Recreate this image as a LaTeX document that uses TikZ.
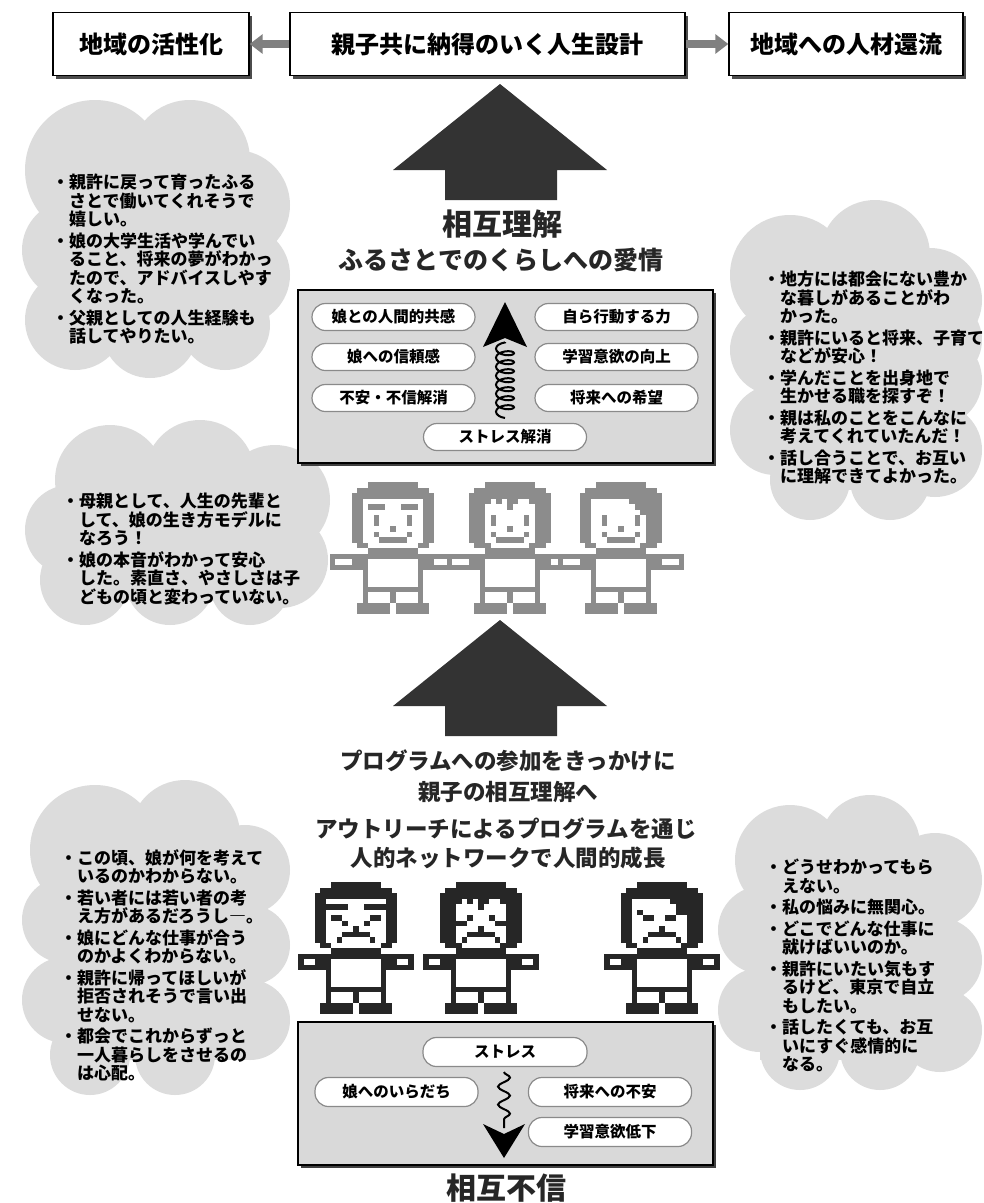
\documentclass[tikz,border=0pt]{standalone}
\usepackage{fontspec}
\newfontfamily\jp{Noto Sans CJK JP}
\usetikzlibrary{arrows.meta,decorations.pathmorphing,shadows}

\definecolor{puffill}{HTML}{DCDCDC}
\definecolor{panelfill}{HTML}{D9D9D9}
\definecolor{pillline}{HTML}{8A8A8A}
\definecolor{arrowdark}{HTML}{333333}
\definecolor{happy}{HTML}{8C8C8C}
\definecolor{sad}{HTML}{262626}
\definecolor{sidearrow}{HTML}{808080}
\definecolor{headtext}{HTML}{262626}

% one block of pixels: colour, first column, first row, last column, last row
\newcommand\pxrect[5]{\fill[#1] (#2,#3) rectangle ({#4+1},{#5+1});}

% pixel-art person: head outline, body with arms
\newcommand\headshape[1]{%
  \pxrect{#1}{3}{0}{11}{0}\pxrect{#1}{1}{1}{13}{1}\pxrect{#1}{0}{2}{14}{10}%
  \pxrect{#1}{1}{11}{13}{11}\pxrect{#1}{3}{12}{11}{12}}
\newcommand\bodyshape[2]{%
  \pxrect{#1}{-#2}{13}{14+#2}{15}%
  \pxrect{white}{-#2+1}{14}{-1}{14}\pxrect{white}{15}{14}{13+#2}{14}%
  \pxrect{white}{3}{14}{11}{15}%
  \pxrect{#1}{2}{16}{12}{21}\pxrect{white}{3}{16}{11}{18}%
  \pxrect{white}{3}{20}{6}{21}\pxrect{white}{8}{20}{11}{21}%
  \pxrect{#1}{1}{22}{6}{23}\pxrect{#1}{8}{22}{13}{23}}
% faces
\newcommand\faceDad{\pxrect{white}{2}{3}{12}{10}\pxrect{white}{3}{11}{11}{11}}
\newcommand\faceMom[1]{\pxrect{white}{3}{4}{11}{10}\pxrect{white}{4}{11}{10}{11}%
  \pxrect{white}{4}{3}{4}{3}\pxrect{white}{6}{3}{6}{3}\pxrect{white}{9}{3}{10}{3}%
  \pxrect{#1}{7}{4}{7}{4}}
\newcommand\faceGirl[1]{\pxrect{white}{2}{3}{8}{3}\pxrect{white}{2}{4}{9}{4}%
  \pxrect{white}{2}{5}{11}{10}\pxrect{white}{3}{11}{10}{11}\pxrect{#1}{11}{5}{11}{5}}
\newcommand\happymouth[1]{\pxrect{#1}{4}{6}{4}{7}\pxrect{#1}{10}{6}{10}{7}\pxrect{#1}{7}{8}{7}{8}%
  \pxrect{#1}{4}{9}{4}{9}\pxrect{#1}{10}{9}{10}{9}\pxrect{#1}{5}{10}{9}{10}}
\newcommand\sadmouth[1]{\pxrect{#1}{7}{8}{7}{8}\pxrect{#1}{5}{9}{9}{9}%
  \pxrect{#1}{4}{10}{4}{10}\pxrect{#1}{10}{10}{10}{10}}
\newcommand\dadbrows[1]{\pxrect{#1}{3}{4}{5}{4}\pxrect{#1}{9}{4}{11}{4}}
\newcommand\dadangry[1]{\pxrect{#1}{2}{4}{5}{4}\pxrect{#1}{9}{4}{12}{4}%
  \pxrect{#1}{3}{6}{4}{6}\pxrect{#1}{5}{7}{5}{7}\pxrect{#1}{10}{6}{11}{6}\pxrect{#1}{9}{7}{9}{7}}
\newcommand\momworried[1]{\pxrect{#1}{5}{6}{5}{6}\pxrect{#1}{3}{7}{4}{7}%
  \pxrect{#1}{9}{6}{9}{6}\pxrect{#1}{10}{7}{11}{7}}
\newcommand\girlangry[1]{\pxrect{#1}{3}{5}{3}{5}\pxrect{#1}{4}{6}{5}{6}%
  \pxrect{#1}{10}{5}{10}{5}\pxrect{#1}{8}{6}{9}{6}}

\tikzset{
  topbox/.style={draw=black, line width=1.4pt, fill=white, minimum height=63pt,
    inner sep=0pt, font=\jp\bfseries\fontsize{24}{28}\selectfont,
    drop shadow={shadow xshift=3pt, shadow yshift=-3pt, fill=black!70, opacity=1}},
  sidearr/.style={draw=sidearrow, line width=7.5pt, -{Triangle[width=19pt,length=13pt]}},
  panel/.style={draw=black, line width=1.3pt, fill=panelfill, inner sep=0pt,
    drop shadow={shadow xshift=3pt, shadow yshift=-3pt, fill=black!75, opacity=1}},
  pill/.style={draw=pillline, line width=1.2pt, fill=white, rounded corners=13.5pt,
    minimum height=27pt, minimum width=163pt, inner sep=0pt,
    font=\jp\bfseries\fontsize{15.5}{18}\selectfont},
  bighead/.style={text=headtext, font=\jp\bfseries\fontsize{30}{34}\selectfont, inner sep=0pt},
  subhead/.style={text=headtext, font=\jp\bfseries\fontsize{25}{30}\selectfont, inner sep=0pt},
  midline/.style={text=headtext, font=\jp\bfseries\fontsize{22.5}{26}\selectfont, inner sep=0pt},
  voice/.style={anchor=north west, inner sep=0pt, text width=250pt, align=left,
    font=\jp\bfseries\fontsize{17}{18.5}\selectfont},
  bigarrow/.style={fill=arrowdark},
  puff/.style={fill=puffill},
}

\begin{document}
\begin{tikzpicture}[x=1pt,y=-1pt]
\useasboundingbox (0,0) rectangle (984,1203);
\fill[white] (0,0) rectangle (984,1203);

% ---------- speech clouds (union of discs over a core block) ----------
\fill[puff] (95,170) circle[radius=70] (190,160) circle[radius=60] (235,205) circle[radius=55]
  (72,250) circle[radius=50] (240,275) circle[radius=50] (75,320) circle[radius=50]
  (150,330) circle[radius=48] (225,325) circle[radius=45];
\fill[puff] (70,150) rectangle (245,340);
\fill[puff] (110,480) circle[radius=55] (200,475) circle[radius=55] (275,500) circle[radius=55]
  (70,530) circle[radius=45] (280,560) circle[radius=48] (85,580) circle[radius=45]
  (170,580) circle[radius=45] (250,585) circle[radius=40];
\fill[puff] (70,470) rectangle (285,600);
\fill[puff] (790,275) circle[radius=60] (875,255) circle[radius=55] (930,300) circle[radius=52]
  (940,340) circle[radius=42] (775,350) circle[radius=45] (935,380) circle[radius=47]
  (775,430) circle[radius=45] (935,450) circle[radius=47] (810,480) circle[radius=40]
  (890,480) circle[radius=40];
\fill[puff] (775,260) rectangle (940,490);
\fill[puff] (95,850) circle[radius=65] (185,835) circle[radius=55] (245,870) circle[radius=45]
  (65,920) circle[radius=43] (250,945) circle[radius=40] (65,1000) circle[radius=43]
  (250,1020) circle[radius=40] (90,1055) circle[radius=40] (175,1055) circle[radius=40];
\fill[puff] (65,840) rectangle (250,1060);
\fill[puff] (790,860) circle[radius=55] (870,845) circle[radius=50] (935,880) circle[radius=47]
  (762,930) circle[radius=44] (940,960) circle[radius=42] (760,1010) circle[radius=42]
  (940,1030) circle[radius=42] (800,1050) circle[radius=40] (880,1050) circle[radius=40];
\fill[puff] (760,850) rectangle (940,1060);

\node[voice] (fatherA) at (52,174) {・親許に戻って育ったふる\\
\hspace*{1em}さとで働いてくれそうで\\
\hspace*{1em}嬉しい。\\[3pt]
・娘の大学生活や学んでい\\
\hspace*{1em}ること、将来の夢がわかっ\\
\hspace*{1em}たので、アドバイスしやす\\
\hspace*{1em}くなった。\\[3pt]
・父親としての人生経験も\\
\hspace*{1em}話してやりたい。};

\node[voice] (motherA) at (62,493) {・母親として、人生の先輩と\\
\hspace*{1em}して、娘の生き方モデルに\\
\hspace*{1em}なろう！\\[3pt]
・娘の本音がわかって安心\\
\hspace*{1em}した。素直さ、やさしさは子\\
\hspace*{1em}どもの頃と変わっていない。};

\node[voice] (daughterA) at (763,271) {・地方には都会にない豊か\\
\hspace*{1em}な暮しがあることがわ\\
\hspace*{1em}かった。\\[3pt]
・親許にいると将来、子育て\\
\hspace*{1em}などが安心！\\[3pt]
・学んだことを出身地で\\
\hspace*{1em}生かせる職を探すぞ！\\[3pt]
・親は私のことをこんなに\\
\hspace*{1em}考えてくれていたんだ！\\[3pt]
・話し合うことで、お互い\\
\hspace*{1em}に理解できてよかった。};

\node[voice] (parentB) at (60,849) {・この頃、娘が何を考えて\\
\hspace*{1em}いるのかわからない。\\[3pt]
・若い者には若い者の考\\
\hspace*{1em}え方があるだろうし―。\\[3pt]
・娘にどんな仕事が合う\\
\hspace*{1em}のかよくわからない。\\[3pt]
・親許に帰ってほしいが\\
\hspace*{1em}拒否されそうで言い出\\
\hspace*{1em}せない。\\[3pt]
・都会でこれからずっと\\
\hspace*{1em}一人暮らしをさせるの\\
\hspace*{1em}は心配。};

\node[voice] (daughterB) at (765,859) {・どうせわかってもら\\
\hspace*{1em}えない。\\[3pt]
・私の悩みに無関心。\\[3pt]
・どこでどんな仕事に\\
\hspace*{1em}就けばいいのか。\\[3pt]
・親許にいたい気もす\\
\hspace*{1em}るけど、東京で自立\\
\hspace*{1em}もしたい。\\[3pt]
・話したくても、お互\\
\hspace*{1em}いにすぐ感情的に\\
\hspace*{1em}なる。};

% ---------- goal row ----------
\node[topbox, minimum width=196pt] (goalL) at (151,44) {地域の活性化};
\node[topbox, minimum width=395pt] (goal) at (487.5,44) {親子共に納得のいく人生設計};
\node[topbox, minimum width=234pt] (goalR) at (846,44) {地域への人材還流};
\draw[sidearr] (goal.west) -- (goalL.east);
\draw[sidearr] (goal.east) -- (goalR.west);

% ---------- upper block arrow and captions ----------
\fill[bigarrow] (500,84) -- (607,170) -- (557,170) -- (557,200) -- (445,200)
  -- (445,170) -- (393,170) -- cycle;
\node[bighead] (mutual) at (502,224) {相互理解};
\node[subhead] (love) at (501,260) {ふるさとでのくらしへの愛情};

% ---------- upper panel ----------
\node[panel, minimum width=415pt, minimum height=173pt] (uppanel) at (505.5,376.5) {};
\node[pill] (u1) at (393.5,317) {娘との人間的共感};
\node[pill] (u2) at (393.5,357) {娘への信頼感};
\node[pill] (u3) at (393.5,398) {不安・不信解消};
\node[pill] (u4) at (616.5,317) {自ら行動する力};
\node[pill] (u5) at (616.5,357) {学習意欲の向上};
\node[pill] (u6) at (616.5,398) {将来への希望};
\node[pill] (u7) at (505,437) {ストレス解消};
\coordinate (coilbot) at (505,418);
\coordinate (coiltop) at (505,342);
\draw[line width=2pt, decorate,
  decoration={coil, aspect=0.45, amplitude=9pt, segment length=9pt}] (coilbot) -- (coiltop);
\fill (505,302) -- (527,347) -- (505,338) -- (483,347) -- cycle;

% ---------- happy family ----------
\begin{scope}[shift={(351.75,482)}, x=5.5pt, y=-5.5pt]
  \bodyshape{happy}{4}\headshape{happy}\faceDad\dadbrows{happy}\happymouth{happy}
\end{scope}
\begin{scope}[shift={(468.75,482)}, x=5.5pt, y=-5.5pt]
  \bodyshape{happy}{4}\headshape{happy}\faceMom{happy}\happymouth{happy}
\end{scope}
\begin{scope}[shift={(579.75,482)}, x=5.5pt, y=-5.5pt]
  \bodyshape{happy}{4}\headshape{happy}\faceGirl{happy}\happymouth{happy}
\end{scope}

% ---------- lower block arrow and captions ----------
\fill[bigarrow] (500,620) -- (607,706) -- (557,706) -- (557,736) -- (445,736)
  -- (445,706) -- (393,706) -- cycle;
\node[midline] (prog1) at (508,761) {プログラムへの参加をきっかけに};
\node[midline] (prog2) at (508,792) {親子の相互理解へ};
\node[midline] (prog3) at (506,829) {アウトリーチによるプログラムを通じ};
\node[midline] (prog4) at (508,858) {人的ネットワークで人間的成長};

% ---------- unhappy family ----------
\begin{scope}[shift={(314.75,882)}, x=5.5pt, y=-5.5pt]
  \bodyshape{sad}{3}\headshape{sad}\faceDad\dadangry{sad}\sadmouth{sad}
\end{scope}
\begin{scope}[shift={(439.75,882)}, x=5.5pt, y=-5.5pt]
  \bodyshape{sad}{3}\headshape{sad}\faceMom{sad}\momworried{sad}\sadmouth{sad}
\end{scope}
\begin{scope}[shift={(620.75,882)}, x=5.5pt, y=-5.5pt]
  \bodyshape{sad}{3}\headshape{sad}\faceGirl{sad}\girlangry{sad}\sadmouth{sad}
\end{scope}

% ---------- lower panel ----------
\node[panel, minimum width=415pt, minimum height=143pt] (lowpanel) at (505.5,1093.5) {};
\node[pill, minimum height=29pt, minimum width=164pt] (l1) at (505,1052) {ストレス};
\node[pill, minimum height=29pt] (l2) at (396.5,1092) {娘へのいらだち};
\node[pill, minimum height=29pt] (l3) at (610,1092) {将来への不安};
\node[pill, minimum height=29pt] (l4) at (610,1132) {学習意欲低下};
\coordinate (wavetop) at (504,1072);
\coordinate (wavebot) at (504,1128);
\draw[line width=2pt, decorate,
  decoration={snake, amplitude=6pt, segment length=18pt}] (wavetop) -- (wavebot);
\fill (504,1158) -- (483,1124) -- (504,1134) -- (525,1124) -- cycle;
\node[bighead] (distrust) at (506,1188) {相互不信};
\end{tikzpicture}
\end{document}
